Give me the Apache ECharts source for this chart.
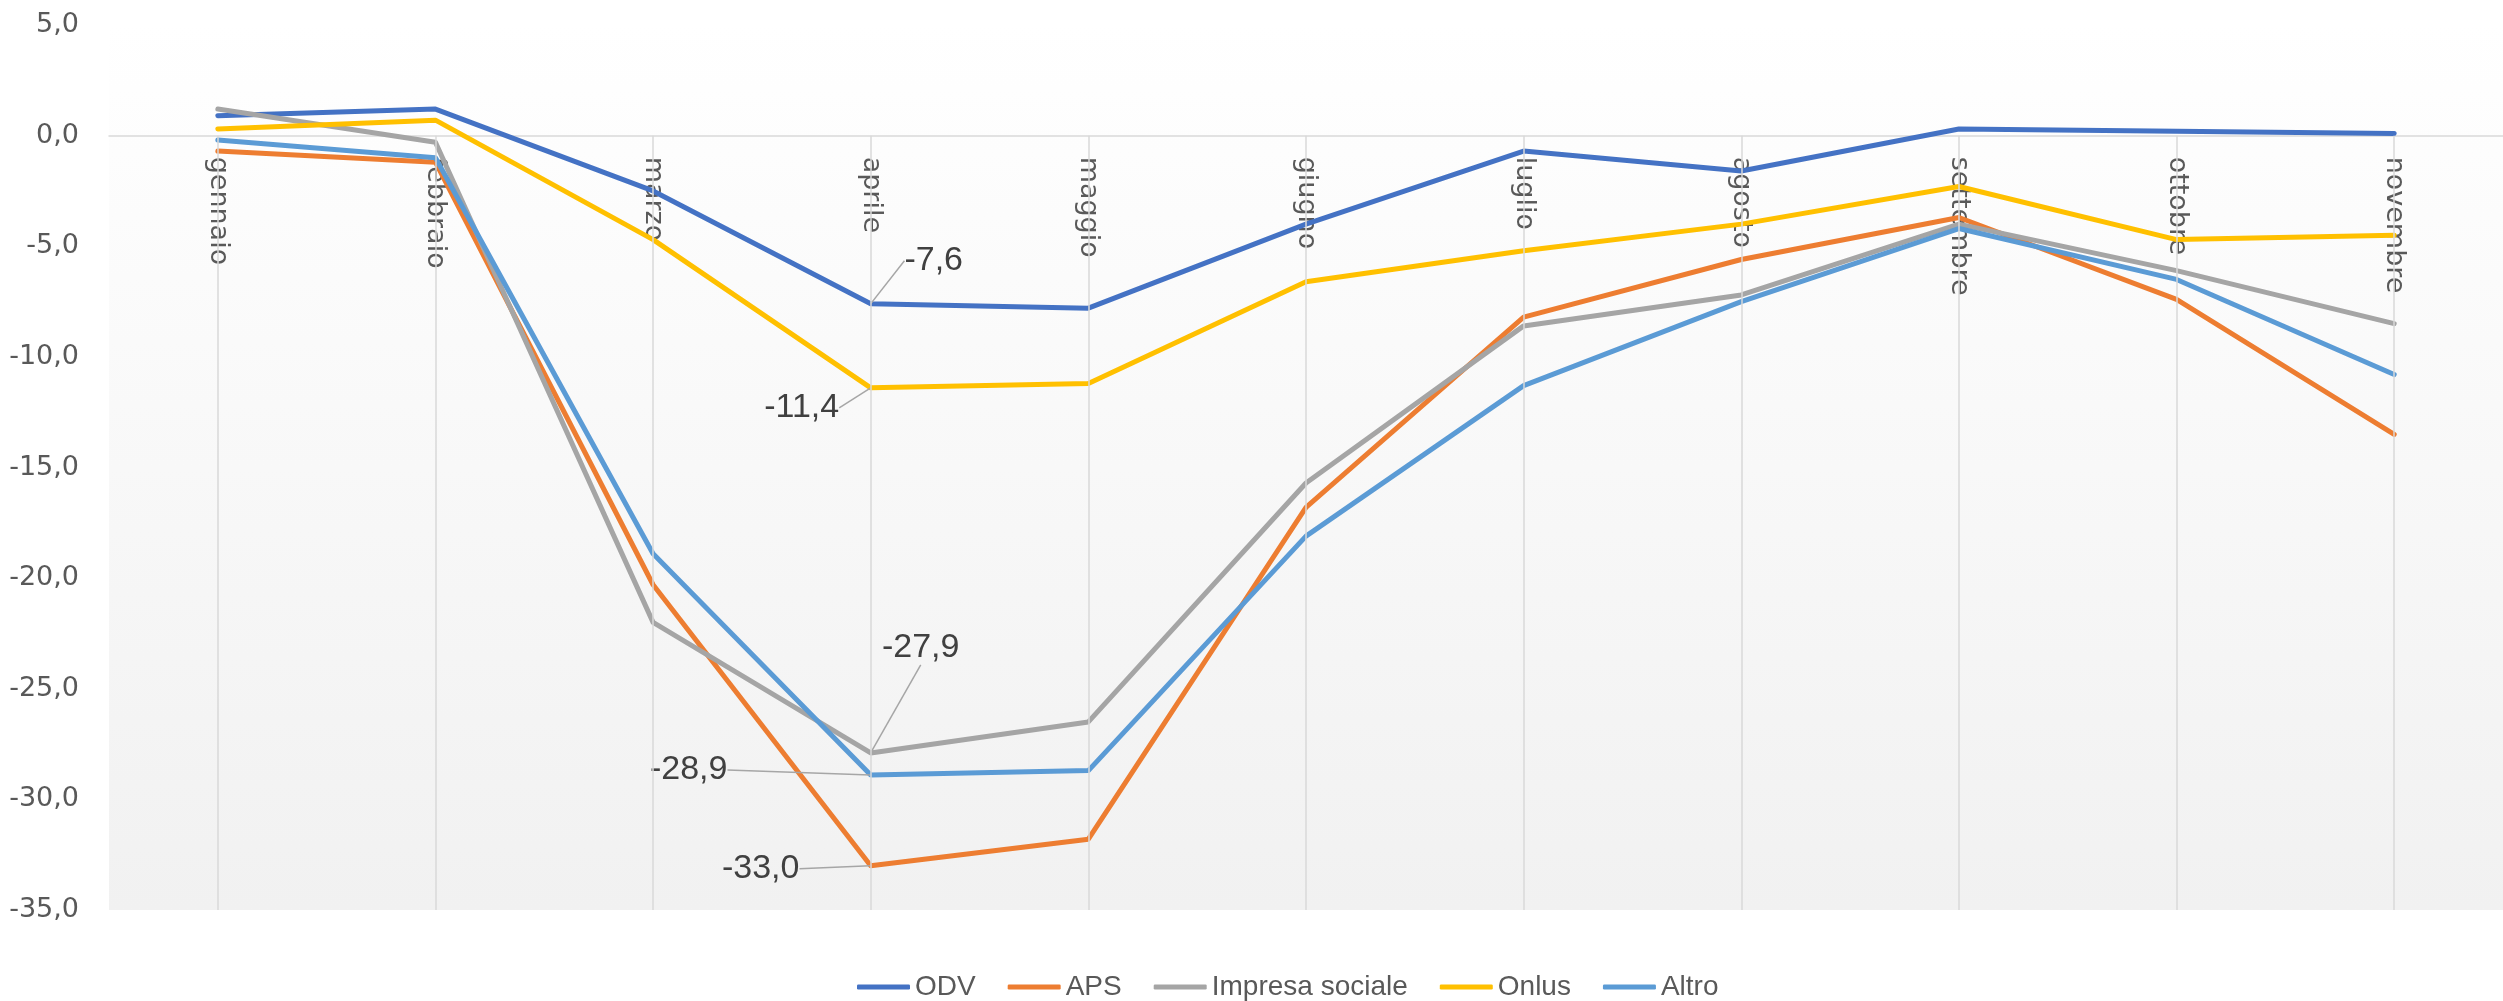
<!DOCTYPE html>
<html>
<head>
<meta charset="utf-8">
<script src="https://cdn.jsdelivr.net/npm/echarts@6/dist/echarts.min.js"></script>
<style>
html,body{margin:0;padding:0;background:#fff;}
#chart{width:2503px;height:1001px;}
</style>
</head>
<body>
<div id="chart"></div>
<script>
const categories = ['gennaio','febbraio','marzo','aprile','maggio','giugno','luglio','agosto','settembre','ottobre','novembre'];
const seriesNames = ['ODV','APS','Impresa sociale','Onlus','Altro'];
const odv     = [0.9, 1.2, -2.5, -7.6, -7.8, -4.0, -0.7, -1.6, 0.3, 0.2, 0.1];
const aps     = [-0.7, -1.2, -20.3, -33.0, -31.8, -16.8, -8.2, -5.6, -3.7, -7.4, -13.5];
const impresa = [1.2, -0.3, -22.0, -27.9, -26.5, -15.7, -8.6, -7.2, -4.0, -6.1, -8.5];
const onlus   = [0.3, 0.7, -4.7, -11.4, -11.2, -6.6, -5.2, -4.0, -2.3, -4.7, -4.5];
const altro   = [-0.2, -1.0, -18.9, -28.9, -28.7, -18.1, -11.3, -7.5, -4.2, -6.5, -10.8];
const yTicks  = {min: -35, max: 5, interval: 5};
const labelledIndex = 3; // aprile

const colors = ['#4472C4', '#ED7D31', '#A5A5A5', '#FFC000', '#5B9BD5'];
const labelOffsets = [[63, -43], [-110, 3], [50, -105], [-69, 20], [-182, -5]];
const values = [odv, aps, impresa, onlus, altro];

const gridBox = {left: 109, top: 25, width: 2402, height: 885};
// distance from the bottom of the plot to the value 0 (where the category axis crosses)
const zeroOffset = gridBox.height * (0 - yTicks.min) / (yTicks.max - yTicks.min);

const fmt = v => v.toFixed(1).replace('.', ',');

const chart = echarts.init(document.getElementById('chart'), null, {renderer: 'canvas'});

const lineSeries = seriesNames.map((name, si) => ({
  name: name,
  type: 'line',
  z: 3,
  data: values[si].map((v, i) => i === labelledIndex
    ? {value: v, label: {show: true}, labelLine: {show: true}}
    : v),
  showSymbol: true,
  symbol: 'circle',
  symbolSize: 1,
  itemStyle: {color: colors[si]},
  lineStyle: {color: colors[si], width: 5, join: 'round', cap: 'round'},
  label: {
    show: false,
    position: 'inside',
    formatter: p => fmt(p.value),
    fontFamily: 'Liberation Sans',
    fontSize: 34,
    color: '#404040'
  },
  labelLine: {show: false, lineStyle: {color: '#a6a6a6', width: 1.5}},
  labelLayout: params => params.dataIndex === labelledIndex
    ? {dx: labelOffsets[si][0], dy: labelOffsets[si][1]}
    : {},
  emphasis: {disabled: true},
  animation: false
}));

const gridSeries = {
  name: '_grid',
  type: 'line',
  data: [],
  z: 1,
  silent: true,
  markLine: {
    silent: true,
    symbol: 'none',
    animation: false,
    label: {show: false},
    lineStyle: {color: '#d9d9d9', width: 1.5, type: 'solid'},
    emphasis: {disabled: true},
    data: categories.map(c => [{coord: [c, 0]}, {coord: [c, yTicks.min]}])
  }
};

chart.setOption({
  animation: false,
  backgroundColor: '#ffffff',
  grid: {
    left: gridBox.left, top: gridBox.top, width: gridBox.width, height: gridBox.height,
    show: true,
    borderWidth: 0,
    backgroundColor: {
      type: 'linear', x: 0, y: 0, x2: 0, y2: 1,
      colorStops: [{offset: 0, color: '#ffffff'}, {offset: 1, color: '#f1f1f1'}]
    }
  },
  legend: {
    data: seriesNames,
    left: 852,
    top: 968,
    icon: 'roundRect',
    itemWidth: 53,
    itemHeight: 5,
    itemGap: 32,
    textStyle: {fontFamily: 'Liberation Sans', fontSize: 28, color: '#595959', padding: [0, 0, 0, 0]}
  },
  xAxis: {
    type: 'category',
    data: categories,
    boundaryGap: true,
    position: 'bottom',
    offset: -zeroOffset,
    axisLine: {show: true, onZero: false, lineStyle: {color: '#d9d9d9', width: 1.5}},
    axisTick: {show: false},
    splitLine: {show: false},
    axisLabel: {
      rotate: -90,
      margin: 21,
      interval: 0,
      fontFamily: 'DejaVu Sans',
      fontSize: 27,
      color: '#595959'
    }
  },
  yAxis: {
    type: 'value',
    min: yTicks.min,
    max: yTicks.max,
    interval: yTicks.interval,
    axisLine: {show: false},
    axisTick: {show: false},
    splitLine: {show: false},
    axisLabel: {
      margin: 30,
      formatter: v => fmt(v),
      fontFamily: 'DejaVu Sans',
      fontSize: 27,
      color: '#595959'
    }
  },
  series: [gridSeries].concat(lineSeries)
});
</script>
</body>
</html>
